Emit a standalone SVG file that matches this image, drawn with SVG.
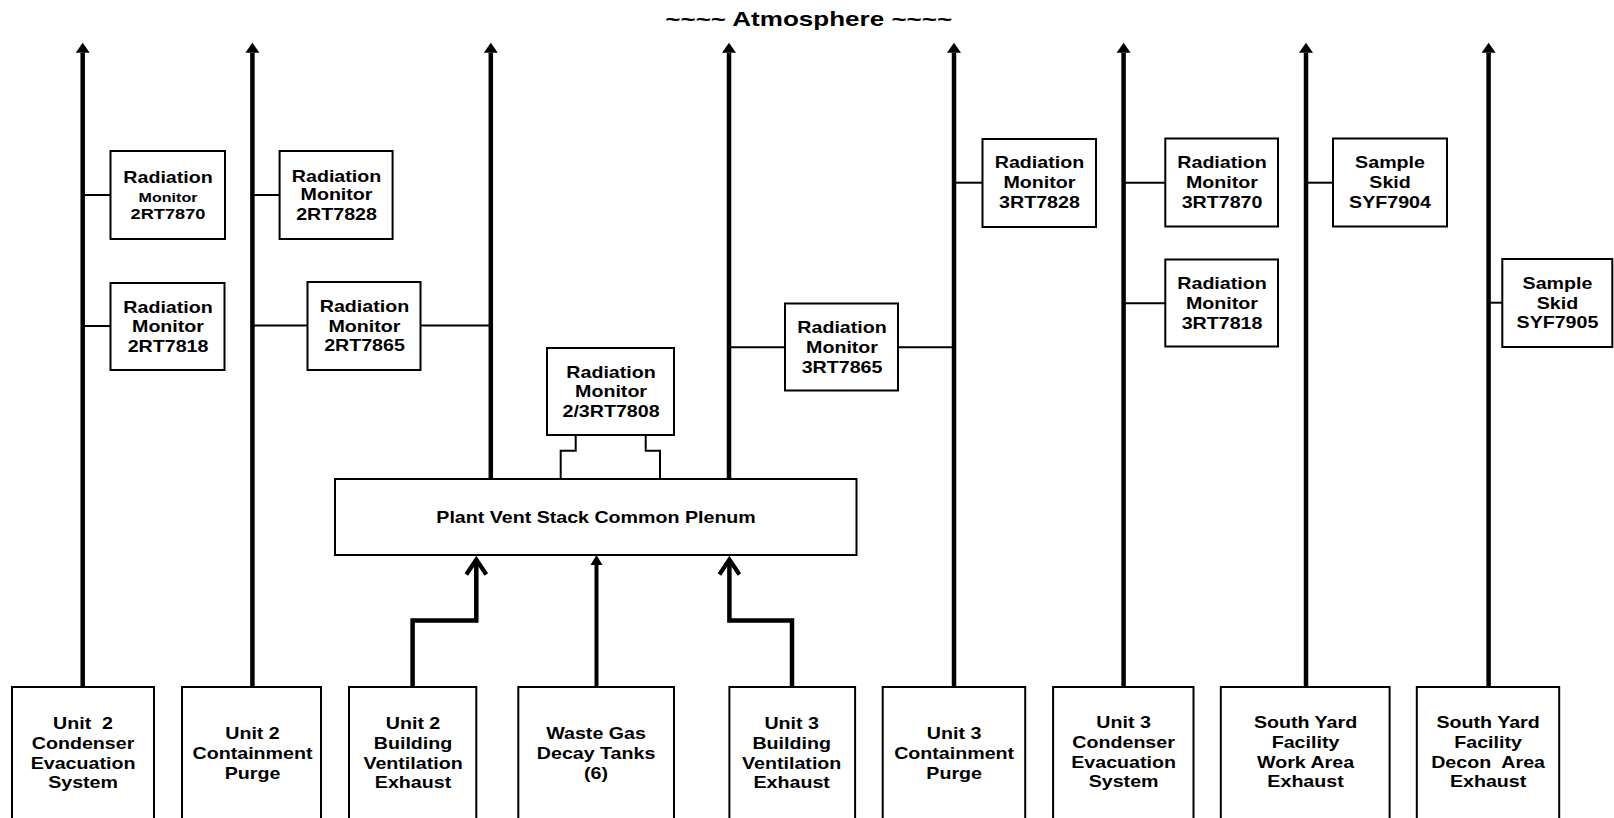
<svg xmlns="http://www.w3.org/2000/svg" width="1614" height="818" viewBox="0 0 1614 818">
<style>
  .bx { fill: #fff; stroke: #000; stroke-width: 2; }
  .t { font-family: "Liberation Sans", Arial, Helvetica, sans-serif; font-weight: bold; font-size: 16.5px; text-anchor: middle; fill: #000; }
  .thin { fill: none; stroke: #000; stroke-width: 2; }
  .stack { fill: none; stroke: #000; stroke-width: 4.5; marker-end: url(#tri); }
  .feed { fill: none; stroke: #000; stroke-width: 4.5; stroke-linejoin: miter; marker-end: url(#chev); }
  .waste { fill: none; stroke: #000; stroke-width: 4; marker-end: url(#tri2); }
</style>
<defs>
  <marker id="tri" markerUnits="userSpaceOnUse" markerWidth="12" markerHeight="16" viewBox="0 -8 12 16" refX="0" refY="0" orient="auto" overflow="visible">
    <path d="M0,-7 L10,0 L0,7 Z" fill="#000"/>
  </marker>
  <marker id="tri2" markerUnits="userSpaceOnUse" markerWidth="12" markerHeight="14" viewBox="0 -7 12 14" refX="0" refY="0" orient="auto" overflow="visible">
    <path d="M0,-6 L10,0 L0,6 Z" fill="#000"/>
  </marker>
  <marker id="chev" markerUnits="userSpaceOnUse" markerWidth="20" markerHeight="24" viewBox="-18 -12 20 24" refX="0" refY="0" orient="auto" overflow="visible">
    <path d="M-15,-10 L0,0 L-15,10" fill="none" stroke="#000" stroke-width="4.2" stroke-linejoin="miter"/>
  </marker>
</defs>
<rect width="1614" height="818" fill="#fff"/>

<text id="atmosphere" class="t" transform="scale(1.27 1)" x="636.8" y="26" style="font-size:20.5px">~~~~ Atmosphere ~~~~</text>

<g id="connectors">
  <path class="stack" d="M82.7,687 V52.7"/>
  <path class="stack" d="M252.4,687 V52.7"/>
  <path class="stack" d="M490.8,479 V52.7"/>
  <path class="stack" d="M729,479 V52.7"/>
  <path class="stack" d="M954,687 V52.7"/>
  <path class="stack" d="M1123.6,687 V52.7"/>
  <path class="stack" d="M1306,687 V52.7"/>
  <path class="stack" d="M1488.6,687 V52.7"/>
  <path class="thin" d="M82.7,195 H110.5"/>
  <path class="thin" d="M82.7,326 H110.5"/>
  <path class="thin" d="M252.4,195 H279.6"/>
  <path class="thin" d="M252.4,325.5 H307.5"/>
  <path class="thin" d="M420.5,325.5 H490.8"/>
  <path class="thin" d="M729,347.3 H785"/>
  <path class="thin" d="M898,347.3 H954"/>
  <path class="thin" d="M954,182.7 H982.5"/>
  <path class="thin" d="M1123.6,182.7 H1165.3"/>
  <path class="thin" d="M1123.6,303.3 H1165.3"/>
  <path class="thin" d="M1306,182.7 H1333"/>
  <path class="thin" d="M1488.6,302.7 H1502.3"/>
  <path class="thin" d="M575.7,435 V450.7 H560.7 V479"/>
  <path class="thin" d="M645.7,435 V450.7 H660 V479"/>
  <path class="feed" d="M412.6,687 V620.5 H476.3 V559.5"/>
  <path class="waste" d="M596.5,687 V565"/>
  <path class="feed" d="M792,687 V620.5 H729.4 V559.5"/>
</g>

<g id="rm-2RT7870">
  <rect class="bx" x="110.5" y="151" width="114.5" height="88"/>
  <text class="t" transform="scale(1.19 1)" x="141.2" y="183.3">Radiation</text>
  <text class="t" transform="scale(1.19 1)" x="141.2" y="201.7" style="font-size:13.5px">Monitor</text>
  <text class="t" transform="scale(1.19 1)" x="141.2" y="219" style="font-size:15.3px">2RT7870</text>
</g>
<g id="rm-2RT7828">
  <rect class="bx" x="279.6" y="151" width="113" height="88"/>
  <text class="t" transform="scale(1.19 1)" x="282.8" y="181.7">Radiation</text>
  <text class="t" transform="scale(1.19 1)" x="282.8" y="200.5">Monitor</text>
  <text class="t" transform="scale(1.19 1)" x="282.8" y="220">2RT7828</text>
</g>
<g id="rm-2RT7818">
  <rect class="bx" x="110.5" y="283" width="114" height="87"/>
  <text class="t" transform="scale(1.19 1)" x="141.2" y="312.7">Radiation</text>
  <text class="t" transform="scale(1.19 1)" x="141.2" y="332.3">Monitor</text>
  <text class="t" transform="scale(1.19 1)" x="141.2" y="351.7">2RT7818</text>
</g>
<g id="rm-2RT7865">
  <rect class="bx" x="307.5" y="282" width="113" height="88"/>
  <text class="t" transform="scale(1.19 1)" x="306.3" y="312">Radiation</text>
  <text class="t" transform="scale(1.19 1)" x="306.3" y="331.7">Monitor</text>
  <text class="t" transform="scale(1.19 1)" x="306.3" y="351.3">2RT7865</text>
</g>
<g id="rm-23RT7808">
  <rect class="bx" x="547" y="348" width="127" height="87"/>
  <text class="t" transform="scale(1.19 1)" x="513.5" y="377.7">Radiation</text>
  <text class="t" transform="scale(1.19 1)" x="513.5" y="397.3">Monitor</text>
  <text class="t" transform="scale(1.19 1)" x="513.5" y="416.7">2/3RT7808</text>
</g>
<g id="rm-3RT7865">
  <rect class="bx" x="785" y="303.5" width="113" height="87"/>
  <text class="t" transform="scale(1.19 1)" x="707.6" y="333.3">Radiation</text>
  <text class="t" transform="scale(1.19 1)" x="707.6" y="353.3">Monitor</text>
  <text class="t" transform="scale(1.19 1)" x="707.6" y="372.7">3RT7865</text>
</g>
<g id="rm-3RT7828">
  <rect class="bx" x="982.5" y="139" width="113.5" height="88"/>
  <text class="t" transform="scale(1.19 1)" x="873.5" y="168.5">Radiation</text>
  <text class="t" transform="scale(1.19 1)" x="873.5" y="188.3">Monitor</text>
  <text class="t" transform="scale(1.19 1)" x="873.5" y="208">3RT7828</text>
</g>
<g id="rm-3RT7870">
  <rect class="bx" x="1165.3" y="138.5" width="112.7" height="88"/>
  <text class="t" transform="scale(1.19 1)" x="1026.9" y="168.3">Radiation</text>
  <text class="t" transform="scale(1.19 1)" x="1026.9" y="188.3">Monitor</text>
  <text class="t" transform="scale(1.19 1)" x="1026.9" y="208.3">3RT7870</text>
</g>
<g id="rm-3RT7818">
  <rect class="bx" x="1165.3" y="259.5" width="112.7" height="87"/>
  <text class="t" transform="scale(1.19 1)" x="1026.9" y="289.3">Radiation</text>
  <text class="t" transform="scale(1.19 1)" x="1026.9" y="309">Monitor</text>
  <text class="t" transform="scale(1.19 1)" x="1026.9" y="328.7">3RT7818</text>
</g>
<g id="skid-SYF7904">
  <rect class="bx" x="1333" y="138.5" width="114" height="88"/>
  <text class="t" transform="scale(1.19 1)" x="1168.1" y="168.3">Sample</text>
  <text class="t" transform="scale(1.19 1)" x="1168.1" y="188.3">Skid</text>
  <text class="t" transform="scale(1.19 1)" x="1168.1" y="208.3">SYF7904</text>
</g>
<g id="skid-SYF7905">
  <rect class="bx" x="1502.3" y="259" width="110" height="88"/>
  <text class="t" transform="scale(1.19 1)" x="1308.8" y="289">Sample</text>
  <text class="t" transform="scale(1.19 1)" x="1308.8" y="308.7">Skid</text>
  <text class="t" transform="scale(1.19 1)" x="1308.8" y="328.3">SYF7905</text>
</g>

<g id="plenum">
  <rect class="bx" x="335" y="479" width="521.5" height="76"/>
  <text class="t" transform="scale(1.19 1)" x="500.9" y="523.5">Plant Vent Stack Common Plenum</text>
</g>

<g id="u2-condenser">
  <rect class="bx" x="12" y="687" width="142" height="135"/>
  <text class="t" transform="scale(1.19 1)" x="69.8" y="729.3" xml:space="preserve">Unit  2</text>
  <text class="t" transform="scale(1.19 1)" x="69.8" y="749.3">Condenser</text>
  <text class="t" transform="scale(1.19 1)" x="69.8" y="769.3">Evacuation</text>
  <text class="t" transform="scale(1.19 1)" x="69.8" y="788.3">System</text>
</g>
<g id="u2-containment">
  <rect class="bx" x="182" y="687" width="139" height="135"/>
  <text class="t" transform="scale(1.19 1)" x="212.2" y="739.3">Unit 2</text>
  <text class="t" transform="scale(1.19 1)" x="212.2" y="759">Containment</text>
  <text class="t" transform="scale(1.19 1)" x="212.2" y="778.7">Purge</text>
</g>
<g id="u2-building">
  <rect class="bx" x="349" y="687" width="127.3" height="135"/>
  <text class="t" transform="scale(1.19 1)" x="347.1" y="729.3">Unit 2</text>
  <text class="t" transform="scale(1.19 1)" x="347.1" y="749.3">Building</text>
  <text class="t" transform="scale(1.19 1)" x="347.1" y="769.3">Ventilation</text>
  <text class="t" transform="scale(1.19 1)" x="347.1" y="788.3">Exhaust</text>
</g>
<g id="waste-gas">
  <rect class="bx" x="518.3" y="687" width="155.7" height="135"/>
  <text class="t" transform="scale(1.19 1)" x="500.9" y="739.3">Waste Gas</text>
  <text class="t" transform="scale(1.19 1)" x="500.9" y="759">Decay Tanks</text>
  <text class="t" transform="scale(1.19 1)" x="500.9" y="778.7">(6)</text>
</g>
<g id="u3-building">
  <rect class="bx" x="729.4" y="687" width="125.7" height="135"/>
  <text class="t" transform="scale(1.19 1)" x="665.3" y="729.3">Unit 3</text>
  <text class="t" transform="scale(1.19 1)" x="665.3" y="749.3">Building</text>
  <text class="t" transform="scale(1.19 1)" x="665.3" y="769.3">Ventilation</text>
  <text class="t" transform="scale(1.19 1)" x="665.3" y="788.3">Exhaust</text>
</g>
<g id="u3-containment">
  <rect class="bx" x="882.7" y="687" width="142.5" height="135"/>
  <text class="t" transform="scale(1.19 1)" x="801.8" y="739.3">Unit 3</text>
  <text class="t" transform="scale(1.19 1)" x="801.8" y="759">Containment</text>
  <text class="t" transform="scale(1.19 1)" x="801.8" y="778.7">Purge</text>
</g>
<g id="u3-condenser">
  <rect class="bx" x="1053.1" y="687" width="140.4" height="135"/>
  <text class="t" transform="scale(1.19 1)" x="944.2" y="728.5">Unit 3</text>
  <text class="t" transform="scale(1.19 1)" x="944.2" y="748.5">Condenser</text>
  <text class="t" transform="scale(1.19 1)" x="944.2" y="768.5">Evacuation</text>
  <text class="t" transform="scale(1.19 1)" x="944.2" y="787.5">System</text>
</g>
<g id="sy-work">
  <rect class="bx" x="1220.8" y="687" width="168.8" height="135"/>
  <text class="t" transform="scale(1.19 1)" x="1097.1" y="728.5">South Yard</text>
  <text class="t" transform="scale(1.19 1)" x="1097.1" y="748.5">Facility</text>
  <text class="t" transform="scale(1.19 1)" x="1097.1" y="768.5">Work Area</text>
  <text class="t" transform="scale(1.19 1)" x="1097.1" y="787.5">Exhaust</text>
</g>
<g id="sy-decon">
  <rect class="bx" x="1416.8" y="687" width="142.4" height="135"/>
  <text class="t" transform="scale(1.19 1)" x="1250.5" y="728.5">South Yard</text>
  <text class="t" transform="scale(1.19 1)" x="1250.5" y="748.5">Facility</text>
  <text class="t" transform="scale(1.19 1)" x="1250.5" y="768.5" xml:space="preserve">Decon  Area</text>
  <text class="t" transform="scale(1.19 1)" x="1250.5" y="787.5">Exhaust</text>
</g>
</svg>
